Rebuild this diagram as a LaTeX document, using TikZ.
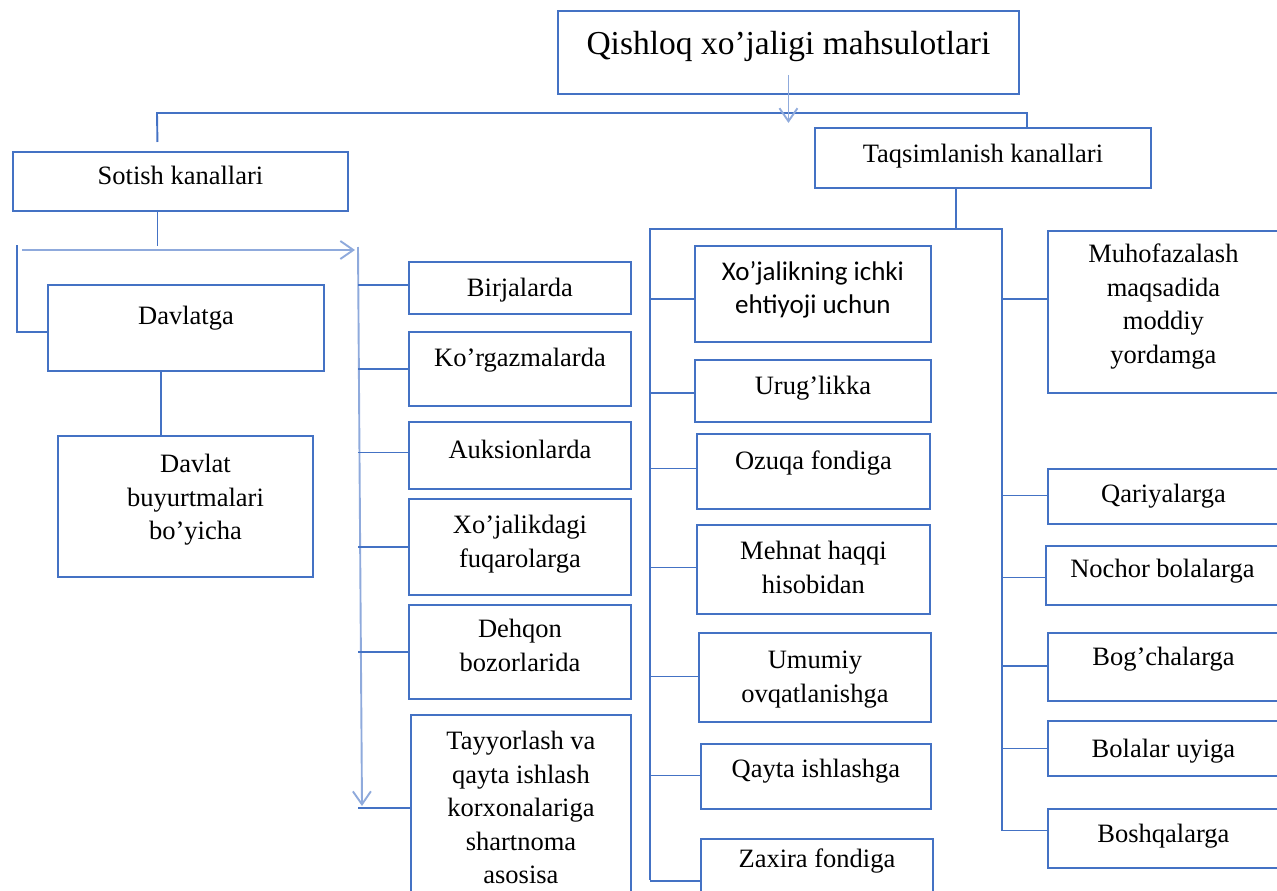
\documentclass[tikz,border=0pt]{standalone}
\usepackage{fontspec}
\setmainfont{Liberation Serif}
\newfontfamily\sansbox{Carlito}
\usetikzlibrary{arrows.meta}
\definecolor{boxblue}{HTML}{4472C4}
\definecolor{arrowblue}{HTML}{8FAADC}
\tikzset{
	box/.style={draw=boxblue,line width=1.9pt,anchor=north west,inner sep=0pt},
	lbl/.style={anchor=north,align=center,inner xsep=0pt,inner ysep=17pt,font=\fontsize{26.5}{33.5}\selectfont},
	link/.style={draw=boxblue,line width=1.9pt},
	flow/.style={draw=arrowblue,line width=1.9pt,-{Straight Barb[length=13pt,width=18pt]}}
}
\begin{document}
\begin{tikzpicture}[x=1pt,y=-1pt]
			\useasboundingbox (0,0) rectangle (1277,891);
			% top and the two channel boxes
			\node[box,minimum width=461pt,minimum height=83pt,label={[lbl,inner ysep=21pt,font=\fontsize{33.5}{40}\selectfont]north:Qishloq xo’jaligi mahsulotlari}](mahsulot) at (557,10) {};
			\node[box,minimum width=335pt,minimum height=59pt,label={[lbl,inner ysep=15pt]north:Sotish kanallari}](sotish) at (12,151) {};
			\node[box,minimum width=336pt,minimum height=60pt,label={[lbl]north:Taqsimlanish kanallari}](taqsim) at (814,127) {};
			% sotish kanallari
			\node[box,minimum width=276pt,minimum height=86pt,label={[lbl,inner ysep=22pt]north:Davlatga}](davlatga) at (47,284) {};
			\node[box,minimum width=255pt,minimum height=141pt,label={[lbl,inner ysep=19pt,xshift=10pt]north:{Davlat\\buyurtmalari\\bo’yicha}}](buyurtma) at (57,435) {};
			\node[box,minimum width=222pt,minimum height=52pt,label={[lbl]north:Birjalarda}](birja) at (408,261) {};
			\node[box,minimum width=222pt,minimum height=74pt,label={[lbl]north:Ko’rgazmalarda}](korgazma) at (408,331) {};
			\node[box,minimum width=222pt,minimum height=67pt,label={[lbl,inner ysep=19pt]north:Auksionlarda}](auksion) at (408,421) {};
			\node[box,minimum width=222pt,minimum height=96pt,label={[lbl]north:{Xo’jalikdagi\\fuqarolarga}}](fuqaro) at (408,498) {};
			\node[box,minimum width=222pt,minimum height=94pt,label={[lbl,inner ysep=15pt]north:{Dehqon\\bozorlarida}}](dehqon) at (408,604) {};
			\node[box,minimum width=220pt,minimum height=186pt,label={[lbl]north:{Tayyorlash va\\qayta ishlash\\korxonalariga\\shartnoma\\asosisa}}](tayyor) at (410,714) {};
			% taqsimlanish kanallari
			\node[box,minimum width=236pt,minimum height=96pt,label={[lbl,inner ysep=16pt,font=\sansbox\fontsize{27}{33.5}\selectfont]north:{Xo’jalikning ichki\\ehtiyoji uchun}}](ichki) at (694,245) {};
			\node[box,minimum width=236pt,minimum height=62pt,label={[lbl]north:Urug’likka}](urug) at (694,359) {};
			\node[box,minimum width=233pt,minimum height=75pt,label={[lbl,inner ysep=18pt]north:Ozuqa fondiga}](ozuqa) at (696,433) {};
			\node[box,minimum width=233pt,minimum height=89pt,label={[lbl]north:{Mehnat haqqi\\hisobidan}}](mehnat) at (696,524) {};
			\node[box,minimum width=232pt,minimum height=89pt,label={[lbl,inner ysep=19pt]north:{Umumiy\\ovqatlanishga}}](umumiy) at (698,632) {};
			\node[box,minimum width=230pt,minimum height=65pt,label={[lbl,inner ysep=16pt]north:Qayta ishlashga}](qayta) at (700,743) {};
			\node[box,minimum width=232pt,minimum height=90pt,label={[lbl,inner ysep=11pt]north:Zaxira fondiga}](zaxira) at (700,838) {};
			\node[box,minimum width=231pt,minimum height=162pt,label={[lbl,inner ysep=14pt]north:{Muhofazalash\\maqsadida\\moddiy\\yordamga}}](muhofaza) at (1047,230) {};
			\node[box,minimum width=231pt,minimum height=55pt,label={[lbl,inner ysep=16pt]north:Qariyalarga}](qariya) at (1047,468) {};
			\node[box,minimum width=233pt,minimum height=59pt,label={[lbl,inner ysep=14pt]north:Nochor bolalarga}](nochor) at (1045,545) {};
			\node[box,minimum width=231pt,minimum height=68pt,label={[lbl,inner ysep=15pt]north:Bog’chalarga}](bogcha) at (1047,632) {};
			\node[box,minimum width=231pt,minimum height=55pt,label={[lbl,inner ysep=19pt]north:Bolalar uyiga}](uyi) at (1047,720) {};
			\node[box,minimum width=231pt,minimum height=59pt,label={[lbl,inner ysep=16pt]north:Boshqalarga}](boshqa) at (1047,808) {};
			% top bus
			\coordinate (busL) at (157,113);
			\coordinate (busR) at (1027,113);
			\draw[link] ([xshift=-23pt,yshift=9pt]sotish.north) -- (busL) -- (busR) -- (busR |- taqsim.north);
			\draw[flow] ([yshift=20pt]mahsulot.south) -- ([yshift=-28pt]mahsulot.south);
			% sotish branches
			\coordinate (sArrL) at (22,250);
			\coordinate (sArrR) at (355,250);
			\coordinate (sLeft) at (17,245);
			\coordinate (sTop) at (358,247);
			\coordinate (sBot) at (362,806);
			\draw[link] ([xshift=-23pt]sotish.south) -- ++(0,34);
			\draw[flow] (sArrL) -- (sArrR);
			\draw[flow] (sTop) -- (sBot);
			\draw[link] (sLeft) |- ([yshift=-4pt]davlatga.west);
			\draw[link] ([xshift=-25pt]davlatga.south) -- ([xshift=-25pt]davlatga.south |- buyurtma.north);
			\foreach \n/\dy in {birja/3,korgazma/0,auksion/3,fuqaro/0,dehqon/0,tayyor/0}
				\draw[link] ([yshift=\dy pt]\n.west) -- ([yshift=\dy pt]\n.west -| sTop);
			% taqsimlanish branches
			\coordinate (tL) at (650,229);
			\coordinate (tR) at (1002,229);
			\coordinate (mBot) at (650,880);
			\draw[link] ([xshift=-27pt]taqsim.south) -- ([xshift=-27pt]taqsim.south |- tL);
			\draw[link] (mBot) -- (tL) -- (tR) |- ([yshift=8pt]boshqa.west);
			\foreach \n/\dy in {ichki/-5,urug/-2,ozuqa/3,mehnat/2,umumiy/1,qayta/1,zaxira/3}
				\draw[link] ([yshift=\dy pt]\n.west) -- ([yshift=\dy pt]\n.west -| tL);
			\foreach \n/\dy in {muhofaza/13,qariya/1,nochor/-2,bogcha/1,uyi/0}
				\draw[link] ([yshift=\dy pt]\n.west) -- ([yshift=\dy pt]\n.west -| tR);
\end{tikzpicture}
\end{document}
